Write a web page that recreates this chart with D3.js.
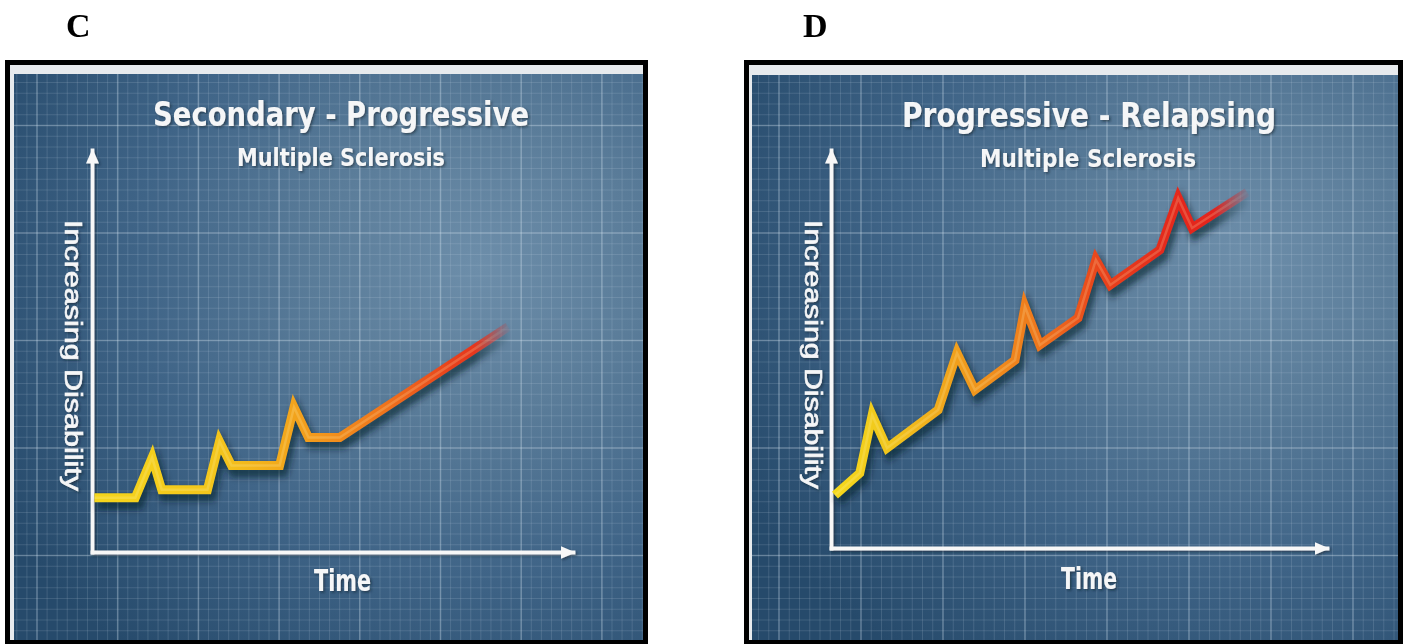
<!DOCTYPE html>
<html>
<head>
<meta charset="utf-8">
<script src="https://cdn.jsdelivr.net/npm/d3@7"></script>
<style>
  html, body { margin: 0; padding: 0; background: #ffffff; }
  svg { display: block; }
</style>
</head>
<body>
<svg id="fig" width="1404" height="644"></svg>
<script>
// ---- chart content ----
const panelLetters = ["C", "D"];
const mainTitles = ["Secondary - Progressive", "Progressive - Relapsing"];
const subTitles = ["Multiple Sclerosis", "Multiple Sclerosis"];
const xAxisLabel = "Time";
const yAxisLabel = "Increasing Disability";

// Secondary-progressive course: relapses on a flat baseline, then steady worsening
const timeC = [0.5, 9, 12.5, 14.5, 24, 26.5, 29, 39, 42, 45, 51.5, 86.5];
const disabilityC = [13.5, 13.5, 23.5, 15.5, 15.5, 27.5, 21.5, 21.5, 36, 28.5, 28.5, 56];

// Progressive-relapsing course: steady worsening with superimposed relapses
const timeD = [0.8, 5.8, 8.3, 11.3, 21.6, 25.4, 29, 37.1, 39.1, 42.1, 49.8, 53.4, 56.3, 66.3, 70, 72.8, 83.9];
const disabilityD = [13.3, 18.8, 33.4, 25.1, 34.7, 49, 39.7, 47.2, 60.6, 51, 57.8, 72.4, 66.1, 74.9, 87.9, 80.4, 89.4];

// ---- layout of the two panels ----
const layout = [
  {
    frame: [5, 60, 648, 645], inner: [10, 65, 643, 641], img: [14, 74, 643, 640],
    origin: [92, 552], xEnd: 573, yTop: 150,
    gridX0: 37, gridY0: 18, majorX: 80.7, majorY: 107.5,
    glow: { cx: "74%", cy: "34%" },
    title: { x: 153, y: 126, len: 376 }, sub: { x: 237, y: 166, len: 208 },
    time: { x: 314, y: 591, len: 57 }, ylab: { x: 65, y: 220, len: 271 },
    letter: { x: 66, y: 37 },
    ramp: [[0, "#f5d61c"], [0.3, "#f3c51c"], [0.5, "#f2a01e"], [0.7, "#ef741e"], [0.86, "#e8421c"], [1, "#e4261c"]]
  },
  {
    frame: [744, 60, 1403, 645], inner: [749, 65, 1398, 641], img: [752, 75, 1398, 640],
    origin: [831, 548], xEnd: 1327, yTop: 150,
    gridX0: 779, gridY0: 18, majorX: 82, majorY: 107.5,
    glow: { cx: "76%", cy: "32%" },
    title: { x: 902, y: 127, len: 374 }, sub: { x: 980, y: 167, len: 216 },
    time: { x: 1061, y: 589, len: 56 }, ylab: { x: 805, y: 220, len: 269 },
    letter: { x: 803, y: 37 },
    ramp: [[0, "#f5d91c"], [0.14, "#f0c41c"], [0.3, "#f09e1e"], [0.48, "#ee7a1e"], [0.64, "#e8441c"], [0.8, "#e42a1c"], [1, "#e2201c"]]
  }
];

const series = [
  { time: timeC, disability: disabilityC },
  { time: timeD, disability: disabilityD }
];

const svg = d3.select("#fig");
const defs = svg.append("defs");

// shared filters
const txtShadow = defs.append("filter").attr("id", "txtShadow")
  .attr("x", "-10%").attr("y", "-20%").attr("width", "130%").attr("height", "160%");
txtShadow.append("feDropShadow").attr("dx", 1.5).attr("dy", 1.5)
  .attr("stdDeviation", 1.2).attr("flood-color", "#0b1c2b").attr("flood-opacity", 0.55);

const lineBlur = defs.append("filter").attr("id", "lineBlur")
  .attr("x", "-10%").attr("y", "-10%").attr("width", "120%").attr("height", "120%");
lineBlur.append("feGaussianBlur").attr("stdDeviation", 3.4);

const soft = defs.append("filter").attr("id", "soft");
soft.append("feGaussianBlur").attr("stdDeviation", 0.45);

const arrow = defs.append("marker").attr("id", "arrowHead")
  .attr("viewBox", "0 -7 15 14").attr("refX", 13).attr("refY", 0)
  .attr("markerUnits", "userSpaceOnUse")
  .attr("markerWidth", 15).attr("markerHeight", 14).attr("orient", "auto");
arrow.append("path").attr("d", "M0,-6.5L15,0L0,6.5Z").attr("fill", "#f7f7f7");

const titleFont = "'Liberation Sans Narrow', 'DejaVu Sans Condensed', 'Liberation Sans', Arial, sans-serif";
const bodyFont = "'Liberation Sans', Arial, 'DejaVu Sans', sans-serif";

layout.forEach((L, i) => {
  const g = svg.append("g");
  const [ix0, iy0, ix1, iy1] = L.img;
  const iw = ix1 - ix0, ih = iy1 - iy0;

  // panel letter
  svg.append("text")
    .attr("x", L.letter.x).attr("y", L.letter.y)
    .attr("font-family", "'Liberation Serif', 'Times New Roman', serif")
    .attr("font-weight", "bold").attr("font-size", 34)
    .attr("fill", "#000").text(panelLetters[i]);

  // light mat behind the picture
  g.append("rect")
    .attr("x", L.inner[0]).attr("y", L.inner[1])
    .attr("width", L.inner[2] - L.inner[0]).attr("height", L.inner[3] - L.inner[1])
    .attr("fill", "#e7eaed");

  // blueprint background
  const bgId = "bg" + i;
  const rg = defs.append("radialGradient").attr("id", bgId)
    .attr("cx", L.glow.cx).attr("cy", L.glow.cy).attr("r", "88%");
  rg.append("stop").attr("offset", "0").attr("stop-color", "#6d8eaa");
  rg.append("stop").attr("offset", "0.3").attr("stop-color", "#5a7c99");
  rg.append("stop").attr("offset", "0.62").attr("stop-color", "#3f6487");
  rg.append("stop").attr("offset", "1").attr("stop-color", "#264a6b");

  const clipId = "clip" + i;
  defs.append("clipPath").attr("id", clipId)
    .append("rect").attr("x", ix0).attr("y", iy0).attr("width", iw).attr("height", ih);

  const bg = g.append("g").attr("clip-path", `url(#${clipId})`);
  bg.append("rect").attr("x", ix0).attr("y", iy0).attr("width", iw).attr("height", ih)
    .attr("fill", `url(#${bgId})`);

  // grid: fine lines and brighter major lines
  const minorX = L.majorX / 8, minorY = L.majorY / 10;
  const vMinor = d3.range(L.gridX0 - 2 * L.majorX, ix1 + 1, minorX);
  const hMinor = d3.range(L.gridY0, iy1 + 1, minorY);
  const vMajor = d3.range(L.gridX0, ix1 + 1, L.majorX);
  const hMajor = d3.range(L.gridY0, iy1 + 1, L.majorY);

  const grid = bg.append("g").attr("filter", "url(#soft)");
  grid.selectAll(".vm").data(vMinor).join("line")
    .attr("x1", d => d).attr("x2", d => d).attr("y1", iy0).attr("y2", iy1)
    .attr("stroke", "#cfe0ee").attr("stroke-opacity", 0.15).attr("stroke-width", 1);
  grid.selectAll(".hm").data(hMinor).join("line")
    .attr("y1", d => d).attr("y2", d => d).attr("x1", ix0).attr("x2", ix1)
    .attr("stroke", "#cfe0ee").attr("stroke-opacity", 0.15).attr("stroke-width", 1);
  grid.selectAll(".vM").data(vMajor).join("line")
    .attr("x1", d => d).attr("x2", d => d).attr("y1", iy0).attr("y2", iy1)
    .attr("stroke", "#d8e8f4").attr("stroke-opacity", 0.26).attr("stroke-width", 1.6);
  grid.selectAll(".hM").data(hMajor).join("line")
    .attr("y1", d => d).attr("y2", d => d).attr("x1", ix0).attr("x2", ix1)
    .attr("stroke", "#d8e8f4").attr("stroke-opacity", 0.26).attr("stroke-width", 1.6);

  // scales
  const x = d3.scaleLinear().domain([0, 100]).range([L.origin[0], L.xEnd]);
  const y = d3.scaleLinear().domain([0, 100]).range([L.origin[1], L.yTop]);

  // titles
  const texts = bg.append("g").attr("fill", "#f5f6f7").attr("filter", "url(#txtShadow)");
  texts.append("text")
    .attr("x", L.title.x).attr("y", L.title.y)
    .attr("font-family", titleFont).attr("font-weight", "bold").attr("font-size", 34)
    .attr("textLength", L.title.len).attr("lengthAdjust", "spacingAndGlyphs")
    .text(mainTitles[i]);
  texts.append("text")
    .attr("x", L.sub.x).attr("y", L.sub.y)
    .attr("font-family", titleFont).attr("font-weight", "bold").attr("font-size", 25)
    .attr("textLength", L.sub.len).attr("lengthAdjust", "spacingAndGlyphs")
    .text(subTitles[i]);
  texts.append("text")
    .attr("x", L.time.x).attr("y", L.time.y)
    .attr("font-family", titleFont).attr("font-weight", "bold").attr("font-size", 30)
    .attr("textLength", L.time.len).attr("lengthAdjust", "spacingAndGlyphs")
    .text(xAxisLabel);
  texts.append("text")
    .attr("transform", `translate(${L.ylab.x},${L.ylab.y}) rotate(90)`)
    .attr("font-family", bodyFont).attr("font-size", 23)
    .attr("stroke", "#f5f6f7").attr("stroke-width", 0.6)
    .attr("textLength", L.ylab.len).attr("lengthAdjust", "spacingAndGlyphs")
    .text(yAxisLabel);

  // axes drawn as bare arrows
  const axes = bg.append("g").attr("filter", "url(#txtShadow)");
  const xAxis = axes.append("g").attr("transform", `translate(0,${L.origin[1]})`)
    .call(d3.axisBottom(x).tickValues([]).tickSizeOuter(0));
  const yAxis = axes.append("g").attr("transform", `translate(${L.origin[0]},0)`)
    .call(d3.axisLeft(y).tickValues([]).tickSizeOuter(0));
  [xAxis, yAxis].forEach(a => a.select(".domain")
    .attr("stroke", "#f7f7f7").attr("stroke-width", 3.8)
    .attr("stroke-linecap", "square")
    .attr("marker-end", "url(#arrowHead)"));

  // disability course line
  const pts = series[i].time.map((t, k) => [t, series[i].disability[k]]);
  const line = d3.line().x(d => x(d[0])).y(d => y(d[1]));
  const xa = x(pts[0][0]), xb = x(pts[pts.length - 1][0]);

  const gradId = "ramp" + i;
  const lg = defs.append("linearGradient").attr("id", gradId)
    .attr("gradientUnits", "userSpaceOnUse")
    .attr("x1", xa).attr("y1", 0).attr("x2", xb).attr("y2", 0);
  L.ramp.forEach(([o, c]) => lg.append("stop").attr("offset", o).attr("stop-color", c));

  // fade-out at the leading end of the line
  const maskGradId = "fadeGrad" + i;
  const mg = defs.append("linearGradient").attr("id", maskGradId)
    .attr("gradientUnits", "userSpaceOnUse")
    .attr("x1", xb - 34).attr("y1", 0).attr("x2", xb + 4).attr("y2", 0);
  mg.append("stop").attr("offset", 0).attr("stop-color", "#fff");
  mg.append("stop").attr("offset", 1).attr("stop-color", "#000");
  const maskId = "fade" + i;
  defs.append("mask").attr("id", maskId)
    .attr("maskUnits", "userSpaceOnUse")
    .attr("x", ix0).attr("y", iy0).attr("width", iw).attr("height", ih)
    .append("rect").attr("x", ix0).attr("y", iy0).attr("width", iw).attr("height", ih)
    .attr("fill", `url(#${maskGradId})`);

  const lg2 = bg.append("g").attr("mask", `url(#${maskId})`);
  lg2.append("path").attr("d", line(pts))
    .attr("transform", "translate(3,6)")
    .attr("fill", "none").attr("stroke", "#0a1b2a").attr("stroke-opacity", 0.6)
    .attr("stroke-width", 11).attr("stroke-linejoin", "miter")
    .attr("filter", "url(#lineBlur)");
  lg2.append("path").attr("d", line(pts))
    .attr("fill", "none").attr("stroke", `url(#${gradId})`)
    .attr("stroke-width", 9).attr("stroke-linejoin", "miter").attr("stroke-miterlimit", 6)
    .attr("filter", "url(#soft)");
  lg2.append("path").attr("d", line(pts))
    .attr("fill", "none").attr("stroke", "#fff6c0").attr("stroke-opacity", 0.2)
    .attr("stroke-width", 2.5).attr("stroke-linejoin", "miter")
    .attr("filter", "url(#soft)");

  // black frame
  svg.append("rect")
    .attr("x", L.frame[0] + 2.5).attr("y", L.frame[1] + 2.5)
    .attr("width", L.frame[2] - L.frame[0] - 5).attr("height", L.frame[3] - L.frame[1] - 5)
    .attr("fill", "none").attr("stroke", "#000").attr("stroke-width", 5);
});
</script>
</body>
</html>
